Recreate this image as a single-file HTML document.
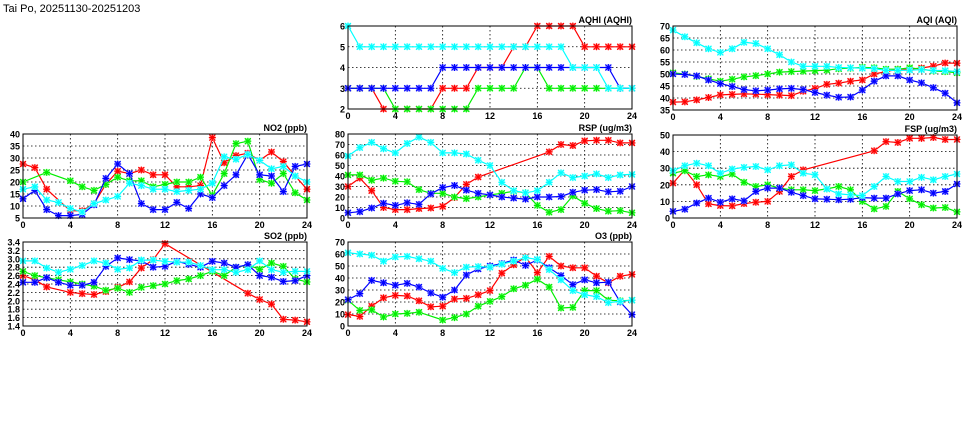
<!DOCTYPE html>
<html><head><meta charset="utf-8"><style>
body{margin:0;background:#fff;}
svg{display:block;font-family:"Liberation Sans",sans-serif;}
</style></head><body>
<svg id="c" width="975" height="447">
<text x="3" y="12" font-size="11">Tai Po, 20251130-20251203</text>
</svg>
<script>
const hours=[0,1,2,3,4,5,6,7,8,9,10,11,12,13,14,15,16,17,18,19,20,21,22,23,24];
const xTicks=[0,4,8,12,16,20,24];
const N=null;
const no2Red=[27.5,26,17,N,8,8,11,19,24.5,23.5,25,23,23,18,18,18.5,38.5,28,31,32,29,32.5,28.5,22.5,17];
const no2Green=[20,N,24,N,20.5,18,16.5,19,22,20.5,20.5,18,19,20,20,22,14.5,23.5,36,37,21,19.5,23.5,15.5,12.5];
const no2Blue=[13,16.5,8.5,6,6,6.5,10.5,21.5,27.5,23.5,11,8.5,8.5,11.5,9,15,13.5,18.5,23,31.5,23,22.5,16,26.5,27.5];
const no2Cyan=[17,18,12.5,11.5,9,7.5,11,12.5,14,19.5,18.5,17,17,16,16.5,17,19.5,30.5,29.5,31.5,29,25.5,26.5,22.5,20];
const so2Red=[2.6,2.5,2.33,N,2.2,2.17,2.15,2.22,2.32,2.45,2.78,2.98,3.36,N,N,N,N,N,N,2.18,2.03,1.92,1.56,1.54,1.5];
const so2Green=[2.7,2.6,2.55,2.5,2.45,2.4,2.35,2.25,2.3,2.2,2.32,2.36,2.4,2.48,2.52,2.6,2.7,2.6,2.8,2.85,2.75,2.9,2.82,2.52,2.45];
const so2Blue=[2.44,2.44,2.55,2.44,2.37,2.37,2.44,2.82,3.02,2.98,2.95,2.8,2.82,2.94,2.87,2.8,2.94,2.9,2.8,2.86,2.6,2.56,2.46,2.48,2.6];
const so2Cyan=[2.95,2.95,2.78,2.68,2.75,2.84,2.95,2.9,2.75,2.78,2.97,2.97,2.94,2.92,2.92,2.84,2.74,2.74,2.68,2.74,2.95,2.74,2.68,2.7,2.7];
const aqhiRed=[3,3,3,2,2,2,2,2,3,3,3,4,4,4,5,5,6,6,6,6,5,5,5,5,5];
const aqhiGreen=[3,3,3,3,2,2,2,2,2,2,2,3,3,3,3,4,4,3,3,3,3,3,3,3,3];
const aqhiBlue=[3,3,3,3,3,3,3,3,4,4,4,4,4,4,4,4,4,4,4,4,4,4,4,3,3];
const aqhiCyan=[6,5,5,5,5,5,5,5,5,5,5,5,5,5,5,5,5,5,5,4,4,4,3,3,3];
const rspRed=[30,38,26,10,8,8,9,9.5,11,19.5,32,39,N,N,N,N,N,63,70,69,73.5,74,74,71.5,71.5];
const rspGreen=[41,41,36,38,35,34.5,27,23.5,23.5,20,18.5,20,22,23.5,25.5,24,12,5.5,8,21,14,9,6.5,7,5];
const rspBlue=[5,6,9.5,14,12,14.5,13,23,29,31,26.5,23.5,22,20,19,18,20,20,20.5,24.5,26.5,27,25,25.5,30];
const rspCyan=[59,67,72,66,62,71,77,72,62,62,61,55,50,34,26,24,26,34,43,38.5,40,42,38.5,41,41.5];
const o3Red=[9.5,8,16.5,23.5,25.5,25,21,16,16.5,22.5,23,26,29.5,44,51,57.5,44.5,58,50,48.5,48.5,41.5,36,41.5,43];
const o3Green=[21.5,13,13.5,7.5,10,10.5,11.5,N,5,7,10,16.5,20.5,24.5,31,34,39,32.5,15,15.5,29.5,29.5,21.5,21,21.5];
const o3Blue=[22,27,38,36,34,35.5,32.5,27.5,24,30,42.5,47.5,50,52,55,50.5,55,48.5,42,34.5,38.5,36,36.5,20,9.5];
const o3Cyan=[61,60,59,54,57.5,58,56,54,48,44.5,49,49.5,49,51.5,54,57,55.5,47,38.5,29.5,26,24.5,19.5,20.5,21.5];
const aqiRed=[38.3,38.4,39.2,40.2,41.3,41.5,41.7,41.6,41.4,41.2,41,42.8,44,45.7,46.2,47,47.5,50,51,52,52,52.5,53.3,54.6,54.5];
const aqiGreen=[50.5,50,49,48,47,47.8,48.8,49.3,50,50.8,51,51.2,51.4,51.6,52.2,52.4,52.8,52.6,52,52,52.6,52,51.3,51,50.5];
const aqiBlue=[50,49.8,49.2,47.5,46,44.8,43.5,43,43.3,43.8,44,43.5,42.3,41.2,40.3,40.4,43.3,47,49.2,49.2,47.5,46.3,44.3,42,38];
const aqiCyan=[68.3,65.5,63,60.5,59,60.5,63.2,62.7,60.5,58,55,53.2,53.2,53.2,52.7,52.6,52.4,52.2,51.5,51.5,51.6,51.8,51.5,51.4,51];
const fspRed=[21,29,20,8.5,7.5,7.3,8.7,9.5,10,16,25,29,N,N,N,N,N,40.5,46,45.5,48,48,48.5,47.3,47.3];
const fspGreen=[27,28.5,25,26,25,26.5,21.5,19,20,18,17,17,16.5,17.5,19,17,10,5.5,7,16,11.5,8,6,6.3,3.7];
const fspBlue=[4,5.3,9,12,9.5,11.5,10.3,16,18,18,15.5,13.5,11.5,11.3,11,11.3,12.3,12,12,14.5,16.5,17,15,16,20.5];
const fspCyan=[28.5,31.5,33,31.5,27,29.5,30.5,31,29,31.5,32,27,26,17.5,14.5,14,13.5,19,25,22,22,24.5,23,25,26.5];
const no2Ticks=[5,10,15,20,25,30,35,40];
const so2Ticks=[1.4,1.6,1.8,2.0,2.2,2.4,2.6,2.8,3.0,3.2,3.4];
const aqhiTicks=[2,3,4,5,6];
const rspTicks=[0,10,20,30,40,50,60,70,80];
const o3Ticks=[0,10,20,30,40,50,60,70];
const aqiTicks=[35,40,45,50,55,60,65,70];
const fspTicks=[0,10,20,30,40,50];

const NS="http://www.w3.org/2000/svg";
const svg=document.getElementById('c');
function mk(tag,attrs,parent){const e=document.createElementNS(NS,tag);for(const k in attrs)e.setAttribute(k,attrs[k]);(parent||svg).appendChild(e);return e;}
const colors=[['#ff0000','#ff9090'],['#00ee00','#90ff90'],['#0000ff','#9090ff'],['#00ffff','#a0ffff']];
function panel(key,title,L,T,W,H,ticks,dec,series){
  const g=mk('g',{});
  
  
  const ymin=ticks[0],ymax=ticks[ticks.length-1];
  const xs=v=>L+v/24*W, ys=v=>T+H-(v-ymin)/(ymax-ymin)*H;
  ticks.forEach(t=>{
    const y=ys(t);
    if(t!==ymin&&t!==ymax){const gl=mk('line',{x1:L,x2:L+W,y1:y,y2:y,stroke:'#000','stroke-width':0.8,'stroke-dasharray':'1.5,2.5'},g);
      }
    const tl=mk('text',{x:L-3,y:y+3.5,'font-size':9,'font-weight':'bold','text-anchor':'end'},g);
    
    tl.textContent=t.toFixed(dec);
  });
  xTicks.forEach(t=>{
    const x=xs(t);
    if(t!==0&&t!==24){const gl=mk('line',{x1:x,x2:x,y1:T,y2:T+H,stroke:'#000','stroke-width':0.8,'stroke-dasharray':'1.5,2.5'},g);
      }
    const tl=mk('text',{x:x,y:T+H+10,'font-size':9,'font-weight':'bold','text-anchor':'middle'},g);
    
    tl.textContent=t;
  });
  const tt=mk('text',{x:L+W,y:T-3,'font-size':9,'font-weight':'bold','text-anchor':'end'},g);
  
  tt.textContent=title;
  series.forEach((s,i)=>{
    const [c,lc]=colors[i];
    const pts=[];hours.forEach((h,j)=>{if(s[j]!==null)pts.push([xs(h),ys(s[j])]);});
    const pl=mk('polyline',{points:pts.map(p=>p[0].toFixed(1)+','+p[1].toFixed(1)).join(' '),fill:'none',stroke:c,'stroke-width':1.2},g);
    
    pts.forEach(p=>{
      const m=mk('g',{},g);
      
      mk('rect',{x:p[0]-3,y:p[1]-3,width:6,height:6,fill:lc},m);
      mk('path',{d:`M${p[0]-3},${p[1]-3}L${p[0]+3},${p[1]+3}M${p[0]-3},${p[1]+3}L${p[0]+3},${p[1]-3}M${p[0]-3.5},${p[1]}L${p[0]+3.5},${p[1]}M${p[0]},${p[1]-3.5}L${p[0]},${p[1]+3.5}`,stroke:c,'stroke-width':1.1},m);
    });
  });
  const fr=mk('rect',{x:L,y:T,width:W,height:H,fill:'none',stroke:'#000','stroke-width':1},g);
  
}
panel('no2','NO2 (ppb)',23,134,284,84,no2Ticks,0,[no2Red,no2Green,no2Blue,no2Cyan]);
panel('so2','SO2 (ppb)',23,242,284,84,so2Ticks,1,[so2Red,so2Green,so2Blue,so2Cyan]);
panel('aqhi','AQHI (AQHI)',348,26,284,83,aqhiTicks,0,[aqhiRed,aqhiGreen,aqhiBlue,aqhiCyan]);
panel('rsp','RSP (ug/m3)',348,134,284,84,rspTicks,0,[rspRed,rspGreen,rspBlue,rspCyan]);
panel('o3','O3 (ppb)',348,242,284,84,o3Ticks,0,[o3Red,o3Green,o3Blue,o3Cyan]);
panel('aqi','AQI (AQI)',673,26,284,84,aqiTicks,0,[aqiRed,aqiGreen,aqiBlue,aqiCyan]);
panel('fsp','FSP (ug/m3)',673,135,284,83,fspTicks,0,[fspRed,fspGreen,fspBlue,fspCyan]);
</script>
</body></html>
